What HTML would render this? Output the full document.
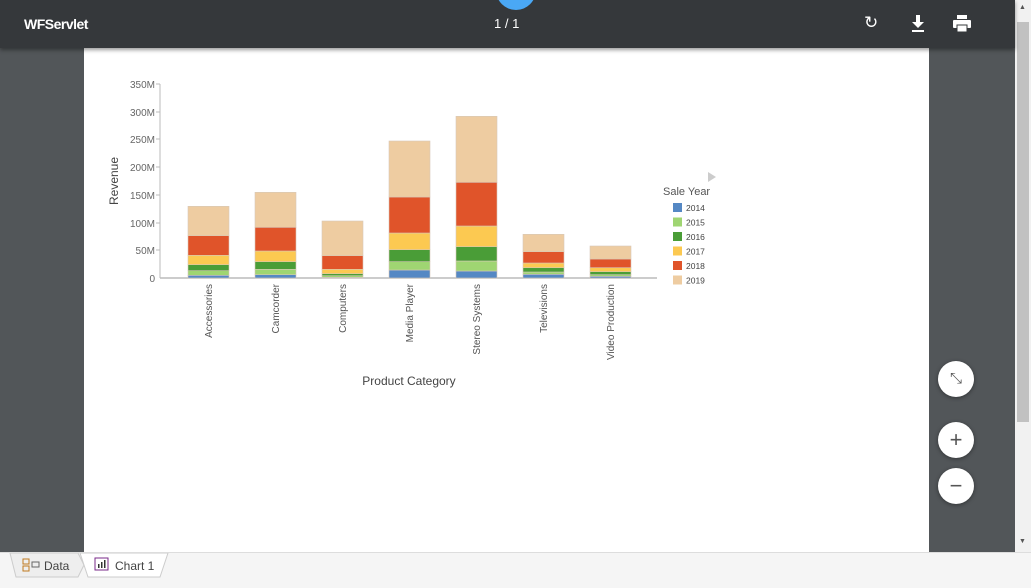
<!DOCTYPE html>
<html><head><meta charset="utf-8"><style>
body{margin:0;width:1031px;height:587px;overflow:hidden;background:#525659;font-family:"Liberation Sans",sans-serif;position:relative}
.hdr{position:absolute;left:0;top:0;width:1015px;height:48px;background:#35383b;box-shadow:0 2px 4px rgba(0,0,0,.4);z-index:2}
.page{position:absolute;left:84px;top:48px;width:845px;height:504px;background:#fff}
.sb{position:absolute;left:1015px;top:0;width:16px;height:552px;background:#f1f1f1}
.thumb{position:absolute;left:1017px;top:22px;width:12px;height:400px;background:#c1c1c1}
.foot{position:absolute;left:0;top:552px;width:1031px;height:35px;background:#f5f5f5;border-top:1px solid #ddd}
.btn{position:absolute;width:36px;height:36px;border-radius:50%;background:#fff;box-shadow:0 1px 4px rgba(0,0,0,.4);text-align:center;line-height:36px;color:#555;font-size:22px}
</style></head><body>
<div class="hdr">
<div style="position:absolute;left:496px;top:-30px;width:40px;height:40px;border-radius:50%;background:#4aa8f5"></div>
<div style="position:absolute;left:24px;top:16px;color:#fff;font-weight:bold;font-size:14px;letter-spacing:-0.5px">WFServlet</div>
<div style="position:absolute;left:494px;top:16px;color:#fff;font-size:13px">1 / 1</div>
<div style="position:absolute;left:864px;top:13px;color:#fff;font-size:17px">↻</div>
<svg style="position:absolute;left:910px;top:15px" width="16" height="18"><rect x="6" y="0" width="4" height="7" fill="#fff"/><polygon points="2,7 14,7 8,13" fill="#fff"/><rect x="2" y="15" width="12" height="2" fill="#fff"/></svg>
<svg style="position:absolute;left:953px;top:15px" width="18" height="18"><rect x="4" y="0" width="10" height="4" fill="#fff"/><rect x="0" y="5" width="18" height="8" rx="1" fill="#fff"/><rect x="4" y="10" width="10" height="7" fill="#fff" stroke="#35383b" stroke-width="1"/></svg>
</div>
<div class="page"></div>
<div class="sb"></div><div class="thumb"></div>
<div style="position:absolute;left:1019px;top:4px;font-size:7px;color:#555">▲</div>
<div style="position:absolute;left:1019px;top:538px;font-size:7px;color:#555">▼</div>
<svg style="position:absolute;left:0;top:0" width="1015" height="552">
<g font-family="Liberation Sans,sans-serif" font-size="10" fill="#666" text-anchor="end">
<line x1="160" y1="84" x2="160" y2="278" stroke="#bbb"/>
<line x1="160" y1="278" x2="657" y2="278" stroke="#bbb" stroke-width="1.5"/>
<g stroke="#bbb"><line x1="156" y1="84" x2="160" y2="84"/><line x1="156" y1="112" x2="160" y2="112"/><line x1="156" y1="139" x2="160" y2="139"/><line x1="156" y1="167" x2="160" y2="167"/><line x1="156" y1="195" x2="160" y2="195"/><line x1="156" y1="223" x2="160" y2="223"/><line x1="156" y1="250" x2="160" y2="250"/></g>
<text x="155" y="88">350M</text><text x="155" y="116">300M</text><text x="155" y="143">250M</text><text x="155" y="171">200M</text><text x="155" y="199">150M</text><text x="155" y="227">100M</text><text x="155" y="254">50M</text><text x="155" y="282">0</text>
</g>
<text transform="translate(118,181) rotate(-90)" text-anchor="middle" font-size="12" fill="#444" font-family="Liberation Sans,sans-serif">Revenue</text>
<text x="409" y="385" text-anchor="middle" font-size="12" fill="#444" font-family="Liberation Sans,sans-serif">Product Category</text>
<g id="bars" stroke="#d8c8b8" stroke-width="0.6"></g>
<g font-family="Liberation Sans,sans-serif" font-size="10" fill="#555" text-anchor="end">
<text transform="translate(212,284) rotate(-90)">Accessories</text>
<text transform="translate(279,284) rotate(-90)">Camcorder</text>
<text transform="translate(346,284) rotate(-90)">Computers</text>
<text transform="translate(413,284) rotate(-90)">Media Player</text>
<text transform="translate(480,284) rotate(-90)">Stereo Systems</text>
<text transform="translate(547,284) rotate(-90)">Televisions</text>
<text transform="translate(614,284) rotate(-90)">Video Production</text>
</g>
<polygon points="708,172 716,177 708,182" fill="#ccc"/>
<text x="663" y="195" font-size="11" fill="#555" font-family="Liberation Sans,sans-serif">Sale Year</text>
<g font-family="Liberation Sans,sans-serif" font-size="8.5" fill="#444">
<rect x="673" y="203" width="9" height="9" fill="#5588c4"/><text x="686" y="211">2014</text>
<rect x="673" y="217.5" width="9" height="9" fill="#9fd572"/><text x="686" y="225.5">2015</text>
<rect x="673" y="232" width="9" height="9" fill="#4a9d37"/><text x="686" y="240">2016</text>
<rect x="673" y="246.5" width="9" height="9" fill="#fcc951"/><text x="686" y="254.5">2017</text>
<rect x="673" y="261" width="9" height="9" fill="#e0542a"/><text x="686" y="269">2018</text>
<rect x="673" y="275.5" width="9" height="9" fill="#eecca1"/><text x="686" y="283.5">2019</text>
</g>
</svg>
<div class="btn" style="left:938px;top:361px;font-size:15px">⤡</div>
<div class="btn" style="left:938px;top:422px">+</div>
<div class="btn" style="left:938px;top:468px">−</div>
<div class="foot">
<svg style="position:absolute;left:0;top:0" width="200" height="35"><polygon points="10,0 78,0 84,12 78,24 16,24" fill="#eee" stroke="#ccc"/><polygon points="80,0 168,0 160,24 88,24 84,12" fill="#fff" stroke="#ccc"/>
<rect x="23" y="6" width="6" height="5" fill="none" stroke="#c07a20"/><rect x="23" y="13" width="6" height="5" fill="none" stroke="#c07a20"/><rect x="32" y="9" width="7" height="5" fill="none" stroke="#666"/>
<rect x="95" y="5" width="13" height="12" fill="none" stroke="#7a2a8a"/><rect x="98" y="11" width="1.5" height="4" fill="#333"/><rect x="101" y="9" width="1.5" height="6" fill="#333"/><rect x="104" y="7" width="1.5" height="8" fill="#333"/></svg>
<div style="position:absolute;left:44px;top:6px;font-size:12px;color:#444">Data</div>
<div style="position:absolute;left:115px;top:6px;font-size:12px;color:#444">Chart 1</div>
</div>
<script>
var cols=["#5588c4","#9fd572","#4a9d37","#fcc951","#e0542a","#eecca1"];
var d=[[275.3,270.7,264.7,255.3,235.7,206.3],[274.7,269.3,261.7,251,227.3,192.3],[277.3,275.7,273.7,269.3,255.7,221],[270,261.7,249.7,233,197,141],[271,261,246.7,226,182.3,116.3],[274.3,272,267.7,263,251.7,234.3],[276.3,274.7,271.7,267.7,259,246]];
var g=document.getElementById("bars"),s="";
d.forEach(function(b,i){var x=188+67*i,prev=278;b.forEach(function(y,j){s+='<rect x="'+x+'" y="'+y+'" width="41" height="'+(prev-y)+'" fill="'+cols[j]+'"/>';prev=y;});});
g.innerHTML=s;
</script>
</body></html>
